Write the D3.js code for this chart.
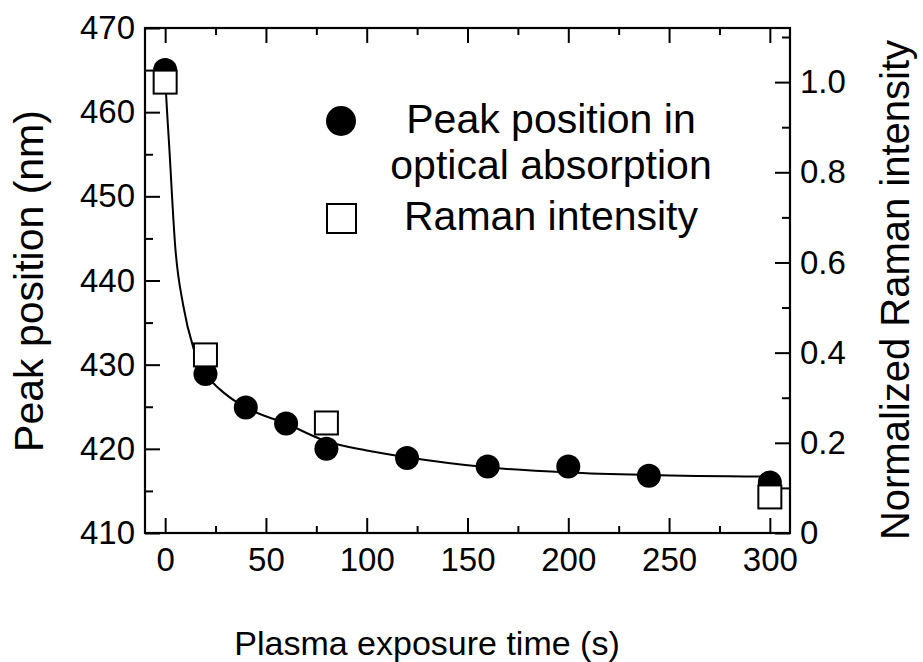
<!DOCTYPE html>
<html>
<head>
<meta charset="utf-8">
<script src="https://cdn.jsdelivr.net/npm/d3@7"></script>
<style>
  body { margin: 0; background: #fff; }
  text { font-family: "Liberation Sans", Arial, sans-serif; fill: #000; }
</style>
</head>
<body>
<svg id="chart" width="923" height="662"></svg>
<script>
// peak position in optical absorption (left axis)
var timeAbs = [0, 20, 40, 60, 80, 120, 160, 200, 240, 300];
var peakPos = [465, 428.9, 424.9, 423, 420, 418.9, 417.9, 417.9, 416.8, 416];
// normalized raman intensity (right axis)
var timeRaman = [0, 20, 80, 300];
var ramanInt = [1.0, 0.395, 0.244, 0.08];
// fitted curve
var fitTime = [0, 0.5, 2, 5, 9, 14, 20, 30, 40, 60, 80, 100, 120, 160, 200, 240, 300];
var fitPeak = [464.5, 462, 456, 444, 437, 432, 429, 426.5, 424.9, 423, 420.9, 419.8, 419, 417.8, 417.2, 416.9, 416.7];

var xMajor = [0, 50, 100, 150, 200, 250, 300];
var xMinor = [25, 75, 125, 175, 225, 275];
var yLeftMajor = [410, 420, 430, 440, 450, 460, 470];
var yLeftMinor = [415, 425, 435, 445, 455, 465];
var yRightMajor = [0, 0.2, 0.4, 0.6, 0.8, 1.0];
var yRightMinor = [0.1, 0.3, 0.5, 0.7, 0.9, 1.1];

var margin = {top: 28, right: 133, bottom: 129, left: 145};
var W = 923, H = 662;
var w = W - margin.left - margin.right, h = H - margin.top - margin.bottom;

var svg = d3.select("#chart");
var g = svg.append("g").attr("transform", "translate(" + margin.left + "," + margin.top + ")");

var x = d3.scaleLinear().domain([-10, 310]).range([0, w]);
var yL = d3.scaleLinear().domain([410, 470]).range([h, 0]);
var yR = d3.scaleLinear().domain([0, 1.12]).range([h, 0]);

function styleAxis(sel){
  sel.select(".domain").remove();
  sel.selectAll(".tick line").attr("stroke", "#000").attr("stroke-width", 2);
  sel.selectAll(".tick text").style("font-size", "33px").attr("fill", "#000");
}

// bottom axis
g.append("g").attr("transform", "translate(0," + h + ")")
  .call(d3.axisBottom(x).tickValues(xMajor).tickSize(-15).tickPadding(15).tickFormat(d3.format("d")))
  .call(styleAxis);
g.append("g").attr("transform", "translate(0," + h + ")")
  .call(d3.axisBottom(x).tickValues(xMinor).tickSize(-7).tickFormat(""))
  .call(styleAxis);
// top axis
g.append("g")
  .call(d3.axisTop(x).tickValues(xMajor).tickSize(-15).tickFormat(""))
  .call(styleAxis);
g.append("g")
  .call(d3.axisTop(x).tickValues(xMinor).tickSize(-7).tickFormat(""))
  .call(styleAxis);
// left axis
g.append("g")
  .call(d3.axisLeft(yL).tickValues(yLeftMajor).tickSize(-15).tickPadding(10).tickFormat(d3.format("d")))
  .call(styleAxis);
g.append("g")
  .call(d3.axisLeft(yL).tickValues(yLeftMinor).tickSize(-8).tickFormat(""))
  .call(styleAxis);
// right axis
g.append("g").attr("transform", "translate(" + w + ",0)")
  .call(d3.axisRight(yR).tickValues(yRightMajor).tickSize(-15).tickPadding(10)
    .tickFormat(function(d){ return d === 0 ? "0" : d3.format(".1f")(d); }))
  .call(styleAxis);
g.append("g").attr("transform", "translate(" + w + ",0)")
  .call(d3.axisRight(yR).tickValues(yRightMinor).tickSize(-8).tickFormat(""))
  .call(styleAxis);

// frame
g.append("rect").attr("width", w).attr("height", h)
  .attr("fill", "none").attr("stroke", "#000").attr("stroke-width", 2.2);

// fit line
var fitData = fitTime.map(function(t, i){ return [t, fitPeak[i]]; });
g.append("path").datum(fitData)
  .attr("fill", "none").attr("stroke", "#000").attr("stroke-width", 2)
  .attr("d", d3.line().x(function(d){ return x(d[0]); }).y(function(d){ return yL(d[1]); }).curve(d3.curveMonotoneX));

// circles
g.selectAll("circle.abs").data(timeAbs).enter().append("circle")
  .attr("class", "abs")
  .attr("cx", function(d){ return x(d); })
  .attr("cy", function(d, i){ return yL(peakPos[i]); })
  .attr("r", 12).attr("fill", "#000");

// squares
var sq = 23;
g.selectAll("rect.raman").data(timeRaman).enter().append("rect")
  .attr("class", "raman")
  .attr("x", function(d){ return x(d) - sq / 2; })
  .attr("y", function(d, i){ return yR(ramanInt[i]) - sq / 2; })
  .attr("width", sq).attr("height", sq)
  .attr("fill", "#fff").attr("stroke", "#000").attr("stroke-width", 2);

// legend
svg.append("circle").attr("cx", 341).attr("cy", 121).attr("r", 15).attr("fill", "#000");
svg.append("rect").attr("x", 327).attr("y", 204).attr("width", 29).attr("height", 29)
  .attr("fill", "#fff").attr("stroke", "#000").attr("stroke-width", 2);
var legText = [["Peak position in", 133], ["optical absorption", 179], ["Raman intensity", 230]];
svg.selectAll("text.leg").data(legText).enter().append("text")
  .attr("class", "leg")
  .attr("x", 551).attr("y", function(d){ return d[1]; })
  .attr("text-anchor", "middle").style("font-size", "41px")
  .text(function(d){ return d[0]; });

// axis titles
svg.append("text").attr("x", 427).attr("y", 655).attr("text-anchor", "middle")
  .style("font-size", "34px").text("Plasma exposure time (s)");
svg.append("text").attr("transform", "translate(43,281) rotate(-90)").attr("text-anchor", "middle")
  .style("font-size", "41px").text("Peak position (nm)");
svg.append("text").attr("transform", "translate(909,290) rotate(-90)").attr("text-anchor", "middle")
  .style("font-size", "40px").text("Normalized Raman intensity");
</script>
</body>
</html>
